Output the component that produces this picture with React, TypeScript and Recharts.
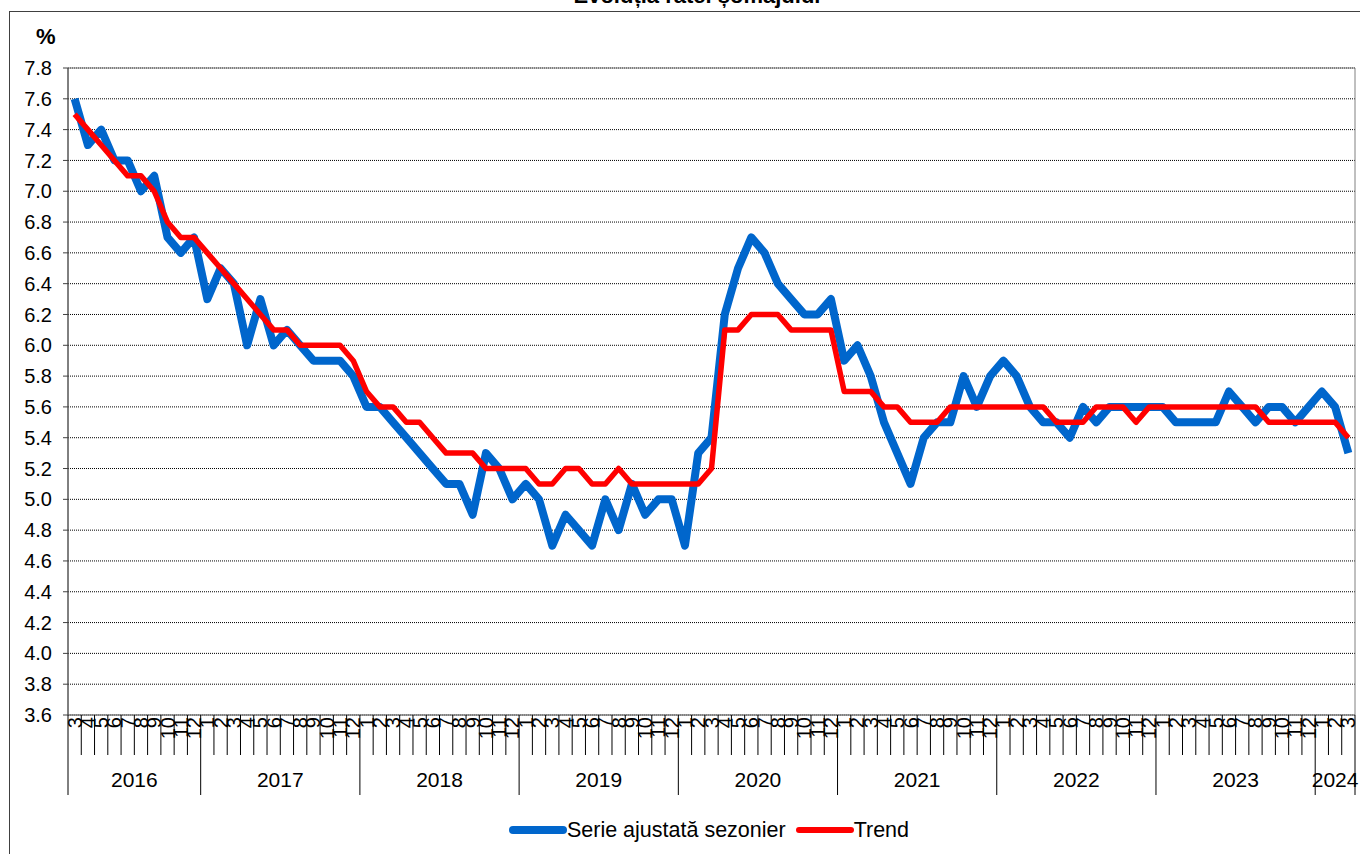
import React from 'react'
import { LineChart, Line, XAxis, YAxis, CartesianGrid, Legend, ReferenceArea } from 'recharts'

const FONT = '"Liberation Sans", Arial, sans-serif'
const BLUE = '#0066CC'
const RED = '#FF0000'

const W = 1360
const H = 854
const PLOT_LEFT = 68
const PLOT_RIGHT = 1355
const PLOT_W = PLOT_RIGHT - PLOT_LEFT

const years = ['2016', '2017', '2018', '2019', '2020', '2021', '2022', '2023', '2024']
const fullYear = ['1', '2', '3', '4', '5', '6', '7', '8', '9', '10', '11', '12']
const monthsByYear: string[][] = [
  ['3', '4', '5', '6', '7', '8', '9', '10', '11', '12'],
  fullYear,
  fullYear,
  fullYear,
  fullYear,
  fullYear,
  fullYear,
  fullYear,
  ['1', '2', '3'],
]

// seria ajustata sezonier, luna cu luna (%)
const seasonallyAdjusted = [
  7.6, 7.3, 7.4, 7.2, 7.2, 7.0, 7.1, 6.7, 6.6, 6.7, // 2016
  6.3, 6.5, 6.4, 6.0, 6.3, 6.0, 6.1, 6.0, 5.9, 5.9, 5.9, 5.8, // 2017
  5.6, 5.6, 5.5, 5.4, 5.3, 5.2, 5.1, 5.1, 4.9, 5.3, 5.2, 5.0, // 2018
  5.1, 5.0, 4.7, 4.9, 4.8, 4.7, 5.0, 4.8, 5.1, 4.9, 5.0, 5.0, // 2019
  4.7, 5.3, 5.4, 6.2, 6.5, 6.7, 6.6, 6.4, 6.3, 6.2, 6.2, 6.3, // 2020
  5.9, 6.0, 5.8, 5.5, 5.3, 5.1, 5.4, 5.5, 5.5, 5.8, 5.6, 5.8, // 2021
  5.9, 5.8, 5.6, 5.5, 5.5, 5.4, 5.6, 5.5, 5.6, 5.6, 5.6, 5.6, // 2022
  5.6, 5.5, 5.5, 5.5, 5.5, 5.7, 5.6, 5.5, 5.6, 5.6, 5.5, 5.6, // 2023
  5.7, 5.6, 5.3, // 2024
]

const trend = [
  7.5, 7.4, 7.3, 7.2, 7.1, 7.1, 7.0, 6.8, 6.7, 6.7, // 2016
  6.6, 6.5, 6.4, 6.3, 6.2, 6.1, 6.1, 6.0, 6.0, 6.0, 6.0, 5.9, // 2017
  5.7, 5.6, 5.6, 5.5, 5.5, 5.4, 5.3, 5.3, 5.3, 5.2, 5.2, 5.2, // 2018
  5.2, 5.1, 5.1, 5.2, 5.2, 5.1, 5.1, 5.2, 5.1, 5.1, 5.1, 5.1, // 2019
  5.1, 5.1, 5.2, 6.1, 6.1, 6.2, 6.2, 6.2, 6.1, 6.1, 6.1, 6.1, // 2020
  5.7, 5.7, 5.7, 5.6, 5.6, 5.5, 5.5, 5.5, 5.6, 5.6, 5.6, 5.6, // 2021
  5.6, 5.6, 5.6, 5.6, 5.5, 5.5, 5.5, 5.6, 5.6, 5.6, 5.5, 5.6, // 2022
  5.6, 5.6, 5.6, 5.6, 5.6, 5.6, 5.6, 5.6, 5.5, 5.5, 5.5, 5.5, // 2023
  5.5, 5.5, 5.4, // 2024
]

const yTicks = [3.6, 3.8, 4.0, 4.2, 4.4, 4.6, 4.8, 5.0, 5.2, 5.4, 5.6, 5.8, 6.0, 6.2, 6.4, 6.6, 6.8, 7.0, 7.2, 7.4, 7.6, 7.8]

type Row = {
  id: string
  year: string
  month: string
  first: boolean
  span: number
  sa: number
  trend: number
}

const rows: Row[] = []
years.forEach((yr, yi) => {
  const months = monthsByYear[yi]
  months.forEach((m, mi) => {
    const i = rows.length
    rows.push({
      id: `${yr}-${m}`,
      year: yr,
      month: m,
      first: mi === 0,
      span: months.length,
      sa: seasonallyAdjusted[i],
      trend: trend[i],
    })
  })
})

function MonthTick(props: any) {
  const { x, y } = props
  const index = props.index ?? props.payload?.index ?? 0
  const r = rows[index]
  if (!r) return null
  const step = PLOT_W / rows.length
  const left = x - step / 2
  const isLast = index === rows.length - 1
  return (
    <g>
      <line x1={left} y1={y} x2={left} y2={y + (r.first ? 80 : 40)} stroke="#000" strokeWidth={1} />
      {isLast && (
        <line x1={x + step / 2} y1={y} x2={x + step / 2} y2={y + 80} stroke="#000" strokeWidth={1} />
      )}
      <text
        transform={`translate(${x + 7},${y + 2}) rotate(-90)`}
        textAnchor="end"
        fontSize={20}
        fontFamily={FONT}
        fill="#000"
      >
        {r.month}
      </text>
      {r.first && (
        <text
          x={left + (r.span * step) / 2}
          y={y + 72}
          textAnchor="middle"
          fontSize={21}
          fontFamily={FONT}
          fill="#000"
        >
          {r.year}
        </text>
      )}
    </g>
  )
}

function LegendContent(props: any) {
  const items = props.payload || []
  return (
    <div
      style={{
        display: 'flex',
        justifyContent: 'center',
        alignItems: 'center',
        fontFamily: FONT,
        fontSize: 21.5,
        color: '#000',
        lineHeight: '26px',
      }}
    >
      {items.map((it: any, i: number) => (
        <div key={i} style={{ display: 'flex', alignItems: 'center', marginRight: i === 0 ? 10 : 0 }}>
          <span
            style={{
              display: 'inline-block',
              width: 58,
              height: it.color === BLUE ? 8 : 6,
              borderRadius: 4,
              background: it.color,
            }}
          />
          <span>{it.value}</span>
        </div>
      ))}
    </div>
  )
}

export default function App() {
  return (
    <div style={{ position: 'absolute', left: 0, top: 0, width: W, height: H, overflow: 'hidden', background: '#fff' }}>
      <div
        style={{
          position: 'absolute',
          left: 9,
          top: 11,
          width: W,
          height: H,
          borderLeft: '1px solid #404040',
          borderTop: '1px solid #404040',
        }}
      />
      <LineChart
        width={W}
        height={H}
        data={rows}
        margin={{ top: 68, right: W - PLOT_RIGHT, bottom: 59, left: 8 }}
      >
        <CartesianGrid yAxisId="left" vertical={false} stroke="#000" strokeDasharray="1 1" />
        <ReferenceArea
          yAxisId="left"
          y1={3.6}
          y2={7.8}
          fill="none"
          stroke="#808080"
          strokeWidth={1}
          ifOverflow="visible"
        />
        <XAxis
          dataKey="id"
          scale="band"
          interval={0}
          height={80}
          tickSize={0}
          tickMargin={0}
          tickLine={false}
          axisLine={{ stroke: '#808080' }}
          tick={<MonthTick />}
        />
        <YAxis
          yAxisId="left"
          width={60}
          domain={[3.6, 7.8]}
          ticks={yTicks}
          interval={0}
          tickFormatter={(v: number) => v.toFixed(1)}
          tickSize={5}
          tickMargin={11}
          tick={{ fontSize: 20, fontFamily: FONT, fill: '#000' }}
          axisLine={{ stroke: '#404040' }}
          tickLine={{ stroke: '#404040' }}
        />
        <Legend
          layout="horizontal"
          verticalAlign="middle"
          align="center"
          content={<LegendContent />}
          wrapperStyle={{ top: 817, left: 58, width: W - 58 }}
        />
        <Line
          yAxisId="left"
          type="linear"
          dataKey="sa"
          name="Serie ajustată sezonier"
          stroke={BLUE}
          strokeWidth={8}
          strokeLinejoin="round"
          dot={false}
          activeDot={false}
          isAnimationActive={false}
        />
        <Line
          yAxisId="left"
          type="linear"
          dataKey="trend"
          name="Trend"
          stroke={RED}
          strokeWidth={5.5}
          strokeLinejoin="round"
          dot={false}
          activeDot={false}
          isAnimationActive={false}
        />
      </LineChart>
      <svg
        width={W}
        height={H}
        style={{ position: 'absolute', left: 0, top: 0, pointerEvents: 'none' }}
      >
        <text x={697} y={3} textAnchor="middle" fontSize={22} fontWeight="bold" fontFamily={FONT} fill="#000">
          Evoluția ratei șomajului
        </text>
        <text x={36} y={44} fontSize={22} fontWeight="bold" fontFamily={FONT} fill="#000">
          %
        </text>
      </svg>
    </div>
  )
}
